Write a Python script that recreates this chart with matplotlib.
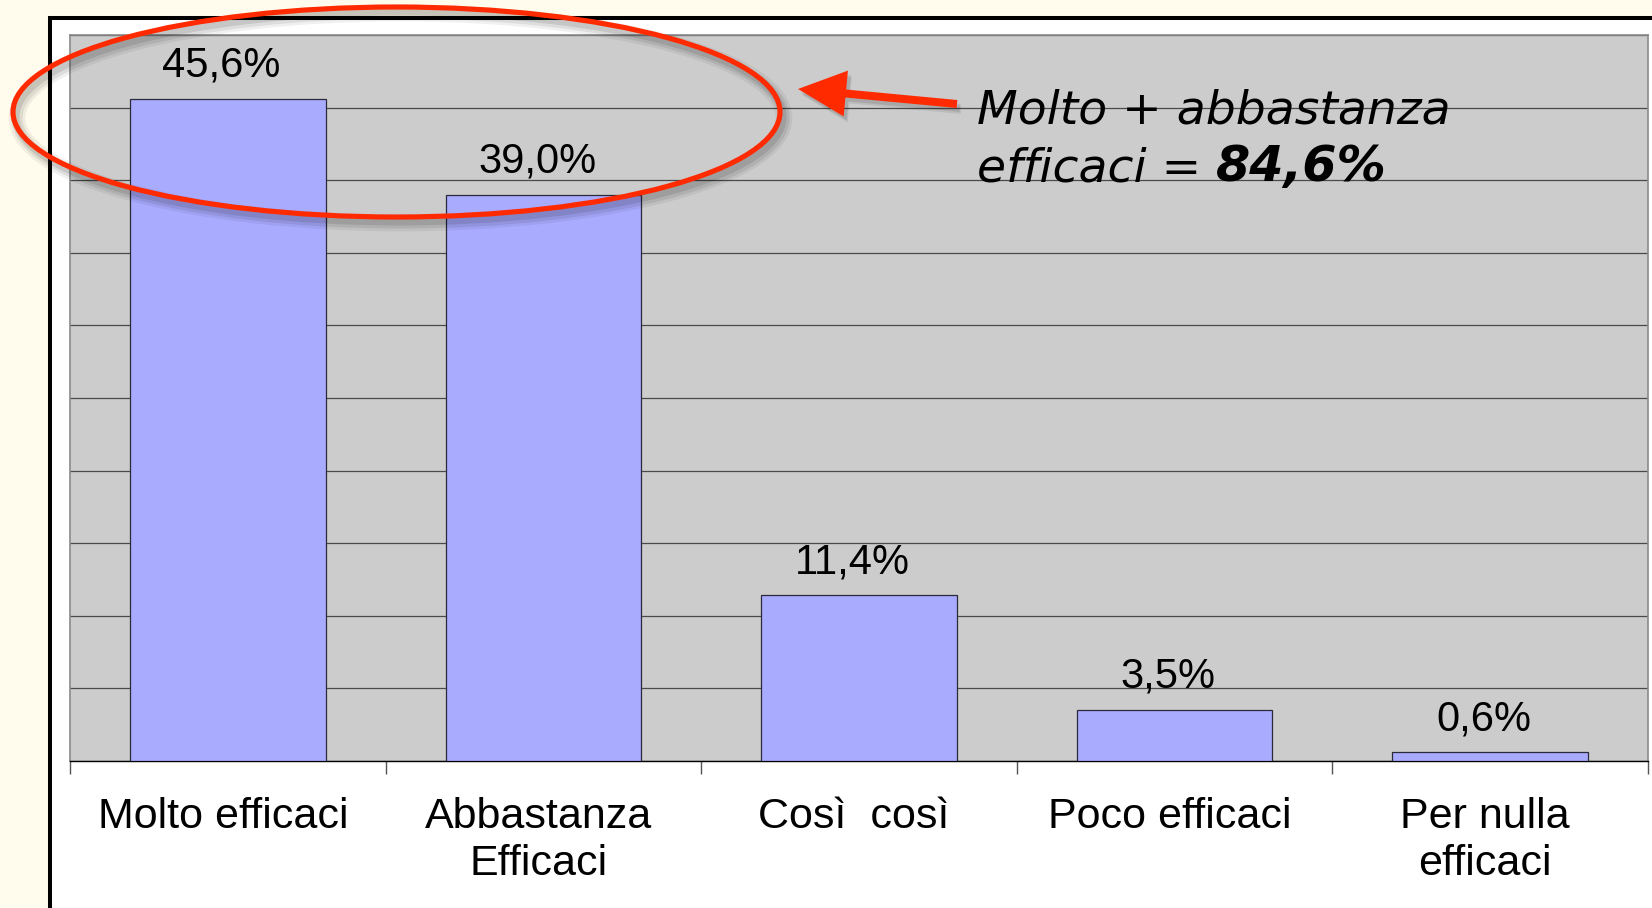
import matplotlib
matplotlib.use('Agg')
import numpy as np
import matplotlib.pyplot as plt
from matplotlib.patches import Ellipse, Rectangle, FancyArrow
from matplotlib.transforms import IdentityTransform, ScaledTranslation

# ---- data ----
categories = ['Molto efficaci', 'Abbastanza\nEfficaci', 'Così  così', 'Poco efficaci', 'Per nulla\nefficaci']
values = [45.6, 39.0, 11.4, 3.5, 0.6]
annot_line1 = 'Molto + abbastanza'
annot_line2 = 'efficaci = '
annot_total = '84,6%'

W, H = 1652, 908
DPI = 100
CREAM = '#fffcee'
RED = '#ff2a00'
LABEL_FONT = 'Liberation Sans'

fig = plt.figure(figsize=(W / DPI, H / DPI), dpi=DPI, facecolor=CREAM)
ident = IdentityTransform()

# outer white frame with black border (continues beyond right / bottom edge)
frame = Rectangle((50, -60), 1800, (H - 17.5) + 60, transform=ident,
                  facecolor='white', edgecolor='black', lw=2.9, zorder=-5)
fig.add_artist(frame)

# axes (plot area)
L, R, T, B = 70, 1648, 35, 761
ax = fig.add_axes([L / W, (H - B) / H, (R - L) / W, (B - T) / H])
ax.set_facecolor('#cccccc')

x = np.arange(len(categories))
ax.bar(x, values, width=0.62, color='#a9abff', edgecolor='#2a2a3a', linewidth=0.9, zorder=3)

ax.set_xlim(-0.5, len(categories) - 0.5)
ax.set_ylim(0, 50)
ax.set_yticks(np.arange(0, 51, 5))
ax.yaxis.grid(True, color='#4a4a4a', lw=0.9)
ax.set_axisbelow(True)
ax.tick_params(axis='y', length=0, labelleft=False)

ax.set_xticks(x, categories)
ax.set_xticks(np.arange(-0.5, len(categories), 1), minor=True)
ax.tick_params(axis='x', which='major', length=0, pad=26, labelsize=31)
ax.tick_params(axis='x', which='minor', length=9, width=1, color='#555555', direction='out')
shift = ScaledTranslation(-5 / DPI, 0, fig.dpi_scale_trans)
for lbl in ax.get_xticklabels():
    lbl.set_family(LABEL_FONT)
    lbl.set_linespacing(1.21)
    lbl.set_transform(lbl.get_transform() + shift)

for side in ['left', 'top', 'right']:
    ax.spines[side].set_color('#8a8a8a')
    ax.spines[side].set_linewidth(1.2)
ax.spines['bottom'].set_color('black')
ax.spines['bottom'].set_linewidth(1.0)

# value labels
for xi, v in zip(x, values):
    ax.annotate(f'{v:.1f}'.replace('.', ',') + '%', (xi, v), xytext=(-4.5, 16),
                textcoords='offset points', ha='center', va='baseline',
                fontsize=30, family=LABEL_FONT, color='black', zorder=4)

# red ellipse with soft shadow
ecx, ecy, ew, eh = 396.5, H - 112, 767, 210
for dx, dy, a, lw in [(4, -6, 0.06, 12), (4, -6, 0.08, 8), (3, -5, 0.10, 5)]:
    fig.add_artist(Ellipse((ecx + dx, ecy + dy), ew, eh, transform=ident, fill=False,
                           ec='black', alpha=a, lw=lw, zorder=4))
fig.add_artist(Ellipse((ecx, ecy), ew, eh, transform=ident, fill=False,
                       ec=RED, lw=3.7, zorder=5))

# arrow with shadow
ax0, ay0, ax1, ay1 = 957, H - 104, 798, H - 89
for dx, dy, a in [(4, -6, 0.08), (3, -4, 0.10)]:
    fig.add_artist(FancyArrow(ax0 + dx, ay0 + dy, ax1 - ax0, ay1 - ay0, width=8, head_width=46,
                              head_length=48, length_includes_head=True, transform=ident,
                              color='black', alpha=a, lw=0, zorder=5))
fig.add_artist(FancyArrow(ax0, ay0, ax1 - ax0, ay1 - ay0, width=8, head_width=46,
                          head_length=48, length_includes_head=True, transform=ident,
                          color=RED, lw=0, zorder=6))

# annotation text
fig.text(977, H - 124, annot_line1, transform=ident, fontsize=34, family='DejaVu Sans',
         style='oblique', ha='left', va='baseline', color='black', zorder=7)
t2 = fig.text(977, H - 181, annot_line2, transform=ident, fontsize=34, family='DejaVu Sans',
              style='oblique', ha='left', va='baseline', color='black', zorder=7)
ax.annotate(annot_total, xy=(1, 0), xycoords=t2, ha='left', va='bottom', fontsize=35.5,
            family='DejaVu Sans', style='oblique', fontweight='bold', color='black',
            annotation_clip=False, zorder=7)

fig.savefig('out.png', dpi=DPI, facecolor=CREAM)
